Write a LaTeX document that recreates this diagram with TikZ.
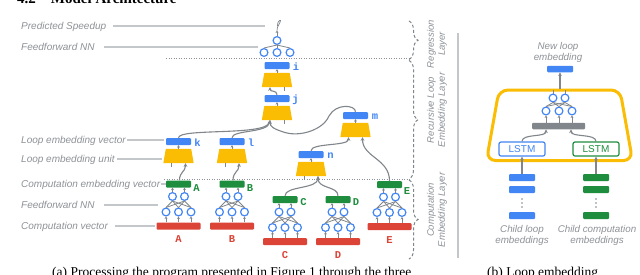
\documentclass[tikz,border=0pt]{standalone}
\usepackage{fontspec}
\setmainfont{Liberation Serif}
\setsansfont{Liberation Sans}
\newfontfamily\tagfont{Liberation Mono}
\usetikzlibrary{arrows.meta,calc,decorations.pathreplacing}
\definecolor{gblue}{HTML}{4285F4}
\definecolor{gyellow}{HTML}{FBBC04}
\definecolor{ggreen}{HTML}{1E8E3E}
\definecolor{gred}{HTML}{DB4437}
\definecolor{ggray}{HTML}{80868B}
\definecolor{lgray}{HTML}{C4C7CA}
\definecolor{tgray}{HTML}{8E9297}
\tikzset{
  bar/.style={rectangle, rounded corners=1pt, minimum width=25pt, minimum height=7pt, inner sep=0pt},
  bbar/.style={bar, fill=gblue},
  gbar/.style={bar, fill=ggreen},
  rbar/.style={bar, fill=gred, minimum width=44pt},
  unitbox/.style={rectangle, minimum width=30pt, minimum height=14pt, inner sep=0pt},
  neuron/.style={circle, draw=gblue, fill=white, line width=1.2pt, minimum size=7.8pt, inner sep=0pt},
  conn/.style={draw=ggray, line width=1.1pt, -{Stealth[length=3.6pt,width=3.6pt]}},
  tick/.style={draw=ggray, line width=0.8pt, -{Stealth[length=2.4pt,width=2.8pt]}},
  wire/.style={draw=ggray, line width=0.8pt},
  lead/.style={draw=lgray, line width=1.1pt},
  side/.style={font=\sffamily\itshape\fontsize{10}{11}\selectfont, text=tgray, inner sep=0pt},
  layertxt/.style={font=\sffamily\itshape\fontsize{9.5}{11}\selectfont, text=tgray, inner sep=0pt, align=center, rotate=90},
  tag/.style={font=\tagfont\bfseries\fontsize{10.5}{10.5}\selectfont, inner sep=0pt},
  dotline/.style={draw=tgray, line width=0.9pt, dash pattern=on 0.9pt off 1.6pt},
  bracebox/.style={draw=ggray, line width=1pt, dash pattern=on 3pt off 2.2pt, decorate, decoration={brace, amplitude=9pt}},
  lstmbox/.style={rectangle, rounded corners=2pt, fill=white, line width=1.2pt, minimum width=46pt, minimum height=14pt, inner sep=0pt, font=\sffamily\fontsize{10}{10}\selectfont},
}
% loop embedding unit: named box with a yellow trapezoid, wider at the bottom
\newcommand\unitat[3]{%
  \node[unitbox] (#1) at (#2,#3) {};
  \fill[gyellow, rounded corners=0.6pt] (#1.south west) -- (#1.south east) -- ($(#1.north east)+(-2.5,0)$) -- ($(#1.north west)+(2.5,0)$) -- cycle;
}
\newcommand\compcol[6]{%
  \node[gbar] (g#1) at (#2,#3) {};
  \node[tag, text=ggreen] (gl#1) at ({#2+#5},{#3+#6}) {#4};
  \node[neuron] (#1t1) at ({#2-6},{#3+12.5}) {};
  \node[neuron] (#1t2) at ({#2+6},{#3+12.5}) {};
  \node[neuron] (#1b1) at ({#2-12.5},{#3+28}) {};
  \node[neuron] (#1b2) at (#2,{#3+28}) {};
  \node[neuron] (#1b3) at ({#2+12.5},{#3+28}) {};
  \node[rbar] (r#1) at (#2,{#3+42}) {};
  \node[tag, text=gred] (rl#1) at (#2,{#3+55.5}) {#4};
  \foreach \ii in {1,2,3} {%
    \foreach \jj in {1,2} {\draw[wire] (#1b\ii.north) -- (#1t\jj.south);}
    \draw[tick] (r#1.north -| #1b\ii) -- (#1b\ii.south);}
  \foreach \jj in {1,2} {\draw[tick] (#1t\jj.north) -- (g#1.south -| #1t\jj);}
}
\begin{document}
\begin{tikzpicture}[x=1pt,y=-1pt]
\clip (0,0) rectangle (640,274);
\fill[white] (0,0) rectangle (640,274);

% title and captions (cut by the frame, as in the reference)
\node[font=\bfseries\fontsize{15}{18}\selectfont, anchor=base west, inner sep=0pt] (ttl) at (17,3) {4.2\quad Model Architecture};
\node[font=\fontsize{13.5}{16}\selectfont, anchor=base west, inner sep=0pt] (capa) at (52,276.5) {(a) Processing the program presented in Figure 1 through the three};
\node[font=\fontsize{13.5}{16}\selectfont, anchor=base west, inner sep=0pt] (capb) at (487,276.5) {(b) Loop embedding};

% dotted layer separators
\draw[dotline] (166,58) -- (410,58);
\draw[dotline] (164,179.5) -- (410,179.5);

% left labels and leads
\node[side, anchor=base west] (lps) at (21,29.6) {Predicted Speedup};
\node[side, anchor=base west] (lff1) at (21,50.6) {Feedforward NN};
\node[side, anchor=base west] (llev) at (21,143.6) {Loop embedding vector};
\node[side, anchor=base west] (lleu) at (21,162.6) {Loop embedding unit};
\node[side, anchor=base west] (lcev) at (21,187.6) {Computation embedding vector};
\node[side, anchor=base west] (lff2) at (21,208.6) {Feedforward NN};
\node[side, anchor=base west] (lcv) at (21,229.6) {Computation vector};
\coordinate (e1) at (265,26);
\coordinate (e2) at (258,47);
\coordinate (e3) at (164,140);
\coordinate (e4) at (162,159);
\coordinate (e5) at (166,184);
\coordinate (e6) at (158,205);
\coordinate (e7) at (155,226);
\draw[lead] (113,26) -- (e1);
\draw[lead] (104,47) -- (e2);
\draw[lead] (127,140) -- (e3);
\draw[lead] (117,159) -- (e4);
\draw[lead] (160.5,184) -- (e5);
\draw[lead] (104,205) -- (e6);
\draw[lead] (115,226) -- (e7);

% regression head
\node[neuron] (rt) at (277,40.5) {};
\node[neuron] (rb1) at (264,52.5) {};
\node[neuron] (rb2) at (277,52.5) {};
\node[neuron] (rb3) at (290,52.5) {};
\foreach \ii in {1,2,3} {\draw[wire] (rt.south) -- (rb\ii.north);}
\coordinate (yout) at (277,30.5);
\draw[tick] (rt.north) -- (yout);
\draw[ggray, line width=0.7pt] (yout) .. controls (276.5,27) and (281,22) .. (280.5,20.5) .. controls (280,19.5) and (277,22) .. (277.5,26);

% loop embedding units
\node[bbar] (i) at (277,65.5) {};
\node[tag, text=gblue] (il) at (296,67) {i};
\unitat{ui}{277}{80}
\node[bbar] (j) at (277,98.5) {};
\node[tag, text=gblue] (jl) at (295.5,100) {j};
\unitat{uj}{277}{113}
\node[bbar] (k) at (178.5,141.5) {};
\node[tag, text=gblue] (kl) at (197.5,143) {k};
\unitat{uk}{178.5}{156}
\node[bbar] (l) at (232,141.5) {};
\node[tag, text=gblue] (ll) at (251,143) {l};
\unitat{ul}{232}{156}
\node[bbar] (n) at (311,154.5) {};
\node[tag, text=gblue] (nl) at (330.5,156) {n};
\unitat{un}{311}{169}
\node[bbar] (m) at (355.5,115.5) {};
\node[tag, text=gblue] (ml) at (375,117) {m};
\unitat{um}{355.5}{130}
\foreach \u in {i,j,k,l,n,m} {\draw[tick] (u\u.north) -- (\u.south);}
\foreach \u in {i,j,k,l,n,m} {
  \coordinate (u\u-l) at ($(u\u.south)+(-7,0)$);
  \coordinate (u\u-r) at ($(u\u.south)+(7,0)$);}
\draw[wire] (ui-r) -- ++(0,4);
\draw[wire] (uj-r) -- ++(0,4);
\draw[wire] (uk-l) -- ++(0,4);
\draw[wire] (ul-l) -- ++(0,4);
\draw[wire] (un-l) -- ++(0,4);

% computation columns
\compcol{A}{178.5}{184}{A}{18}{4}
\compcol{B}{232}{184}{B}{18}{4}
\compcol{C}{285}{199.5}{C}{18.5}{2.5}
\compcol{D}{338}{199.5}{D}{18}{2.5}
\compcol{E}{389.5}{184.5}{E}{17.5}{7}

% connectors
\draw[conn] ($(gA.north)+(1,0)$) .. controls +(0,-9) and ($(uk-r)+(0,9)$) .. (uk-r);
\draw[conn] ($(gB.north)+(1,0)$) .. controls +(0,-9) and ($(ul-r)+(0,9)$) .. (ul-r);
\draw[conn] (gC.north) .. controls +(0,-10) and ($(un-r)+(0,13)$) .. (un-r);
\draw[conn] (gD.north) .. controls +(0,-10) and ($(un-r)+(0,13)$) .. (un-r);
\draw[conn] (n.north) .. controls +(0,-8) and ($(um-l)+(0,9)$) .. (um-l);
\draw[conn] (gE.north) .. controls +(0,-22) and ($(um-r)+(0,20)$) .. (um-r);
\draw[conn] (k.north) .. controls +(0,-10) and ($(uj-l)+(-4,16)$) .. (uj-l);
\draw[conn] (l.north) .. controls +(0,-8) and ($(uj-l)+(-2,13)$) .. (uj-l);
\draw[conn] (m.north) .. controls +(0,-7) and (336,103) .. (329,116) .. controls (323,130) and (300,137) .. (285,132.5) .. controls (274,129) and (270,127) .. (uj-l);
\draw[conn] (j.north) .. controls +(0,-5) and ($(ui-l)+(0,5)$) .. (ui-l);

% layer braces and texts
\draw[bracebox] (409,21) -- (409,59.5);
\draw[bracebox] (409,60.5) -- (409,179);
\draw[bracebox] (409,180) -- (409,259);
\node[layertxt] (tReg) at (437,44) {Regression\\Layer};
\node[layertxt] (tRec) at (437,110) {Recursive Loop\\Embedding Layer};
\node[layertxt] (tCmp) at (437,210) {Computation\\Embedding Layer};
\draw[lead] (458,33) -- (458,258);

% (b) loop embedding unit
\draw[gyellow, line width=3pt, rounded corners=9pt] (499,90) -- (620,90) -- (632.5,160.5) -- (486.5,160.5) -- cycle;
\node[side, align=center, font=\sffamily\itshape\fontsize{9.8}{11}\selectfont] (tnew) at (558,52.5) {New loop\\embedding};
\node[bbar, minimum width=26pt, minimum height=6.5pt] (nle) at (560,69) {};
\coordinate (ytop) at (560,89);
\draw[conn] (ytop) -- (nle.south);
\node[neuron] (pt1) at (553,98) {};
\node[neuron] (pt2) at (565,98) {};
\node[neuron] (pb1) at (546,111) {};
\node[neuron] (pb2) at (559,111) {};
\node[neuron] (pb3) at (572,111) {};
\foreach \ii in {1,2,3} {\foreach \jj in {1,2} {\draw[wire] (pb\ii.north) -- (pt\jj.south);}}
\node[bar, fill=ggray, minimum width=53pt, minimum height=6.5pt] (agg) at (558.5,126) {};
\foreach \ii in {1,2,3} {\draw[tick] (agg.north -| pb\ii) -- (pb\ii.south);}
\foreach \jj in {1,2} {\draw[wire] (pt\jj.north) -- ++(0,-4);}
\node[lstmbox, draw=gblue, text=gblue] (lb) at (522,149) {LSTM};
\node[lstmbox, draw=ggreen, text=ggreen] (lg) at (596,149) {LSTM};
\coordinate (aggl) at ($(agg.south)+(-12.5,0)$);
\coordinate (aggr) at ($(agg.south)+(12.5,0)$);
\draw[conn] (lb.north) .. controls +(0,-8) and ($(aggl)+(0,8)$) .. (aggl);
\draw[conn] (lg.north) .. controls +(0,-8) and ($(aggr)+(0,8)$) .. (aggr);
\node[bbar, minimum width=26pt] (bs1) at (522,177.5) {};
\node[bbar, minimum width=26pt] (bs2) at (522,189.5) {};
\node[bbar, minimum width=26pt] (bs3) at (522,215.5) {};
\node[gbar, minimum width=26pt] (gs1) at (596,177.5) {};
\node[gbar, minimum width=26pt] (gs2) at (596,189.5) {};
\node[gbar, minimum width=26pt] (gs3) at (596,215.5) {};
\foreach \yy in {199,203,207} {\fill[ggray] (522,\yy) circle (0.9pt); \fill[ggray] (596,\yy) circle (0.9pt);}
\draw[conn] (bs1.north) -- (lb.south);
\draw[conn] (gs1.north) -- (lg.south);
\node[side, align=center, font=\sffamily\itshape\fontsize{9.8}{11}\selectfont] (tcl) at (522,235) {Child loop\\embeddings};
\node[side, align=center, font=\sffamily\itshape\fontsize{9.8}{11}\selectfont] (tcc) at (597,235) {Child computation\\embeddings};
\end{tikzpicture}
\end{document}
